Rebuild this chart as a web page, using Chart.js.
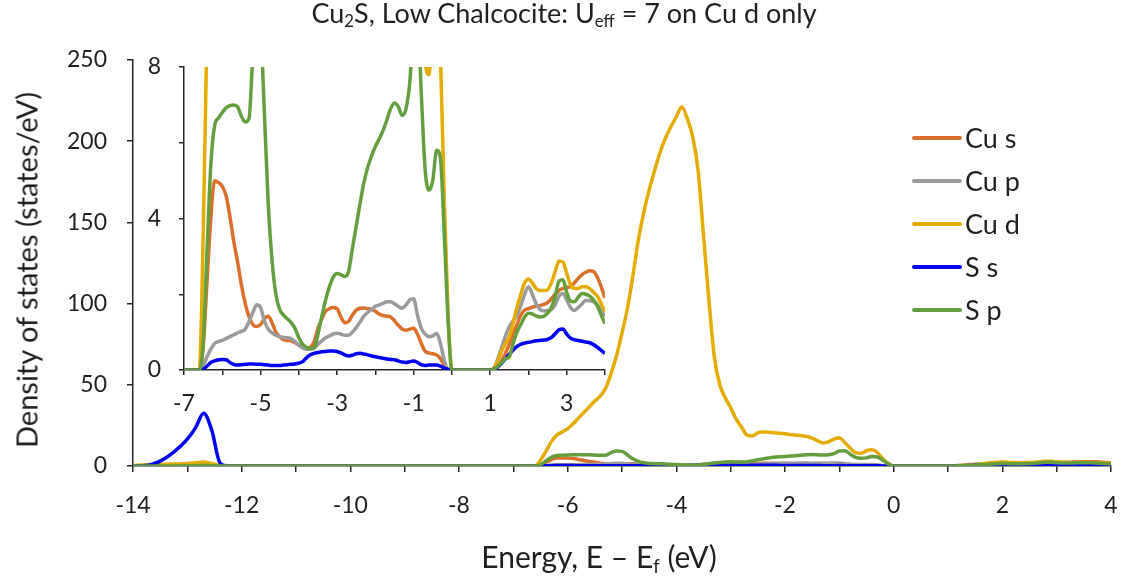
<!DOCTYPE html>
<html>
<head>
<meta charset="utf-8">
<script src="https://cdn.jsdelivr.net/npm/chart.js@4.4.1/dist/chart.umd.min.js"></script>
<style>
  body { margin: 0; background: #fff; }
  #wrap { position: relative; width: 1122px; height: 579px; background: #fff; font-family: Lato, sans-serif; color: #1f1f1f; }
  canvas { position: absolute; }
  .title { position: absolute; left: 564px; top: -1px; transform: translateX(-50%); font-size: 27px; line-height: 1; white-space: nowrap; }
  .xtitle { position: absolute; left: 599px; top: 541px; transform: translateX(-50%); font-size: 30px; line-height: 1; white-space: nowrap; }
  .ytitle { position: absolute; left: 26px; top: 270px; transform: translate(-50%, -50%) rotate(-90deg); font-size: 29px; line-height: 1; white-space: nowrap; }
  sub { font-size: 62%; vertical-align: -0.25em; line-height: 0; }
  #legend-container { position: absolute; left: 912px; top: 116px; }
  .item { display: flex; align-items: center; height: 43px; font-size: 27px; }
  .item span.line { display: inline-block; width: 50px; height: 4px; margin-right: 3px; border-radius: 2px; }
</style>
</head>
<body>
<div id="wrap">
  <canvas id="mainChart" width="1122" height="579" style="left:0;top:0"></canvas>
  <canvas id="insetChart" width="505" height="390" style="left:120px;top:47px"></canvas>
  <div class="title">Cu<sub>2</sub>S, Low Chalcocite: U<sub>eff</sub> = 7 on Cu d only</div>
  <div class="xtitle">Energy, E – E<sub>f</sub> (eV)</div>
  <div class="ytitle">Density of states (states/eV)</div>
  <div id="legend-container"></div>
</div>
<script>
// energy grid (eV), coarse where everything is flat
const energy = [
  -14, -13.75, -13.5, -13.25, -13, -12.85, -12.7, -12.55, -12.4, -12.25, -12, -11, -10, -9, -8, -7, -6.6,
  -6.5, -6.4, -6.3, -6.2, -6.1, -6.0, -5.9, -5.8, -5.7, -5.6,
  -5.5, -5.4, -5.3, -5.2, -5.1, -5.0, -4.9, -4.8, -4.7, -4.6,
  -4.5, -4.4, -4.3, -4.2, -4.1, -4.0, -3.9, -3.8, -3.7, -3.6,
  -3.5, -3.4, -3.3, -3.2, -3.1, -3.0, -2.9, -2.8, -2.7, -2.6,
  -2.5, -2.4, -2.3, -2.2, -2.1, -2.0, -1.9, -1.8, -1.7, -1.6,
  -1.5, -1.4, -1.3, -1.2, -1.1, -1.0, -0.9, -0.8, -0.7, -0.6,
  -0.5, -0.4, -0.3, -0.2, -0.1, 0,
  0.5,
  1.0, 1.1, 1.2, 1.3, 1.4, 1.5, 1.6, 1.7, 1.8, 1.9,
  2.0, 2.1, 2.2, 2.3, 2.4, 2.5, 2.6, 2.7, 2.8, 2.9,
  3.0, 3.1, 3.2, 3.3, 3.4, 3.5, 3.6, 3.7, 3.8, 3.9,
  4.0
];

const cuS = [
  0, 0, 0, 0.1, 0.2, 0.3, 0.5, 0.3, 0.1, 0, 0, 0, 0, 0, 0, 0, 0,
  0.6, 2.3, 4.0, 5.0, 4.95, 4.85, 4.6, 4.05, 3.4, 2.85,
  2.25, 1.75, 1.4, 1.2, 1.15, 1.2, 1.35, 1.42, 1.25, 1.0,
  0.88, 0.8, 0.78, 0.77, 0.72, 0.66, 0.6, 0.57, 0.6, 0.75,
  1.1, 1.35, 1.55, 1.62, 1.65, 1.62, 1.4, 1.25, 1.28, 1.45,
  1.58, 1.63, 1.64, 1.62, 1.6, 1.55, 1.48, 1.44, 1.42, 1.4,
  1.3, 1.18, 1.08, 1.05, 1.08, 1.1, 0.95, 0.7, 0.5, 0.45,
  0.43, 0.4, 0.3, 0.12, 0, 0,
  0,
  0, 0.02, 0.1, 0.25, 0.45, 0.68, 0.95, 1.2, 1.45, 1.58,
  1.62, 1.66, 1.68, 1.7, 1.73, 1.78, 1.88, 2.0, 2.1, 2.15,
  2.18, 2.2, 2.3, 2.42, 2.52, 2.58, 2.62, 2.6, 2.45, 2.2,
  1.9
];

const cuP = [
  0, 0, 0, 0.1, 0.2, 0.3, 0.4, 0.3, 0.1, 0, 0, 0, 0, 0, 0, 0, 0,
  0.1, 0.35, 0.55, 0.7, 0.75, 0.78, 0.83, 0.88, 0.93, 0.98,
  1.02, 1.08, 1.28, 1.52, 1.72, 1.65, 1.3, 1.08, 0.98, 0.92,
  0.88, 0.86, 0.85, 0.83, 0.75, 0.66, 0.58, 0.55, 0.55, 0.58,
  0.68, 0.77, 0.85, 0.9, 0.95, 0.97, 0.95, 0.92, 0.92, 1.0,
  1.12, 1.27, 1.42, 1.52, 1.6, 1.68, 1.72, 1.76, 1.8, 1.8,
  1.75, 1.68, 1.63, 1.72, 1.85, 1.88, 1.45, 1.1, 0.95, 0.88,
  0.9, 0.97, 0.7, 0.25, 0, 0,
  0,
  0, 0.05, 0.3, 0.6, 0.9, 1.15, 1.3, 1.45, 1.7, 2.0,
  2.2, 2.0, 1.75, 1.6, 1.56, 1.57, 1.6, 1.72, 1.95, 2.02,
  1.85, 1.65, 1.57, 1.65, 1.75, 1.84, 1.83, 1.8, 1.72, 1.58,
  1.41
];

const cuD = [
  0.3, 0.8, 1.0, 1.2, 1.5, 2.0, 2.5, 1.5, 0.5, 0.2, 0, 0, 0, 0, 0, 0, 0,
  3.5, 9, 15, 19, 21, 23, 26, 29.5, 33, 36.5,
  40, 43, 48, 57, 68, 82, 97, 117, 139, 156,
  170, 182, 193, 202, 209, 215, 221, 214, 203, 182,
  142, 102, 67, 50, 42, 36, 29, 24, 19, 18.5,
  20.5, 21, 20.8, 20.5, 20.1, 19.8, 19.4, 19, 18.7, 18.2,
  17.2, 15.5, 14.2, 14.8, 16.5, 17.2, 14.5, 11, 8.2, 7.8,
  9.4, 10, 8.3, 4.5, 1.5, 0,
  0,
  0, 0.05, 0.25, 0.5, 0.7, 0.88, 1.25, 1.65, 2.0, 2.3,
  2.4, 2.3, 2.15, 2.1, 2.1, 2.12, 2.3, 2.6, 2.88, 2.85,
  2.55, 2.25, 2.15, 2.15, 2.2, 2.2, 2.15, 2.05, 1.95, 1.75,
  1.54
];

const sS = [
  0, 0.3, 3, 8.5, 16.5, 23.5, 32.5, 22, 2, 0, 0, 0, 0, 0, 0, 0, 0,
  0.02, 0.1, 0.2, 0.24, 0.27, 0.28, 0.27, 0.2, 0.15, 0.13,
  0.14, 0.15, 0.16, 0.16, 0.15, 0.15, 0.14, 0.13, 0.12, 0.12,
  0.12, 0.13, 0.14, 0.15, 0.16, 0.18, 0.22, 0.32, 0.4, 0.44,
  0.46, 0.48, 0.49, 0.5, 0.5, 0.49, 0.45, 0.4, 0.37, 0.39,
  0.43, 0.44, 0.42, 0.4, 0.37, 0.35, 0.33, 0.31, 0.29, 0.28,
  0.27, 0.24, 0.21, 0.2, 0.22, 0.24, 0.2, 0.14, 0.12, 0.13,
  0.13, 0.13, 0.1, 0.05, 0.02, 0,
  0,
  0, 0.02, 0.08, 0.18, 0.3, 0.42, 0.53, 0.62, 0.68, 0.71,
  0.73, 0.75, 0.77, 0.78, 0.79, 0.81, 0.86, 0.96, 1.06, 1.08,
  0.95, 0.84, 0.8, 0.78, 0.76, 0.74, 0.72, 0.67, 0.6, 0.52,
  0.44
];

const sP = [
  0, 0, 0, 0, 0.1, 0.2, 0.3, 0.2, 0.1, 0, 0, 0, 0, 0, 0, 0, 0,
  0.7, 3.1, 5.4, 6.45, 6.65, 6.8, 6.92, 6.98, 7.0, 6.95,
  6.7, 6.55, 6.65, 8.3, 9.2, 9.0, 6.8, 4.4, 2.9, 2.0,
  1.6, 1.45, 1.35, 1.25, 1.1, 0.85, 0.68, 0.6, 0.57, 0.58,
  0.95, 1.41, 1.85, 2.2, 2.45, 2.55, 2.52, 2.47, 2.6, 3.2,
  3.8, 4.4, 4.95, 5.35, 5.65, 5.9, 6.1, 6.32, 6.6, 6.9,
  7.05, 6.95, 6.72, 6.9, 7.6, 9.2, 9.4, 7.3, 5.3, 4.75,
  5.0, 5.8, 5.6, 3.6, 1.3, 0,
  0,
  0, 0.02, 0.1, 0.2, 0.3, 0.35, 0.7, 1.0, 1.2, 1.4,
  1.5, 1.48, 1.43, 1.4, 1.42, 1.5, 1.65, 1.95, 2.35, 2.38,
  2.05, 1.82, 1.8, 1.92, 2.02, 2.0, 1.95, 1.85, 1.7, 1.45,
  1.23
];

const seriesNames = ["Cu s", "Cu p", "Cu d", "S s", "S p"];
const seriesData = [cuS, cuP, cuD, sS, sP];
const seriesColors = ["#DD6F2C", "#9B9B9B", "#E5AB00", "#0000F5", "#63A03D"];

const axisColor = "#262626";
Chart.defaults.font.family = "Lato";
Chart.defaults.color = "#1f1f1f";

function makeDatasets() {
  return seriesNames.map((name, i) => ({
    label: name,
    data: energy.map((e, k) => ({ x: e, y: seriesData[i][k] })),
    borderColor: seriesColors[i],
    borderWidth: 3.5,
    pointRadius: 0,
    cubicInterpolationMode: "monotone",
    //S p on top, Cu s at the bottom
    order: seriesNames.length - 1 - i,
  }));
}

function axisStyle(tickLen) {
  return {
    grid: { drawOnChartArea: false, tickLength: tickLen, color: axisColor, lineWidth: 1.5 },
    border: { color: axisColor, width: 1.5 },
  };
}

//fixed box sizes so the plot area lands where it should; labels may overhang
function fixBox(size) {
  return (s) => {
    if (s.isHorizontal()) s.height = size;
    else s.width = size;
    s.paddingLeft = 0;
    s.paddingRight = 0;
    s.paddingTop = 0;
    s.paddingBottom = 0;
  };
}

function initMain() {
  const ctx = document.getElementById("mainChart").getContext("2d");
  return new Chart(ctx, {
    type: "line",
    data: { datasets: makeDatasets() },
    options: {
      responsive: false,
      animation: false,
      layout: { padding: { top: 60, right: 11, left: 0, bottom: 0 } },
      plugins: { legend: { display: false }, tooltip: { enabled: false } },
      scales: {
        x: {
          type: "linear",
          min: -14,
          max: 4,
          ...axisStyle(6),
          ticks: {
            stepSize: 1,
            autoSkip: false,
            maxRotation: 0,
            padding: 20,
            font: { size: 23 },
            callback: (v) => (v % 2 === 0 ? String(v) : ""),
          },
          afterFit: fixBox(113),
        },
        y: {
          min: 0,
          max: 250,
          ...axisStyle(6),
          ticks: { stepSize: 50, padding: 20, font: { size: 23 } },
          afterFit: fixBox(133),
        },
      },
    },
  });
}

function initInset() {
  const ctx = document.getElementById("insetChart").getContext("2d");
  return new Chart(ctx, {
    type: "line",
    data: { datasets: makeDatasets() },
    options: {
      responsive: false,
      animation: false,
      layout: { padding: { top: 20, right: 20, left: 0, bottom: 0 } },
      plugins: { legend: { display: false }, tooltip: { enabled: false } },
      scales: {
        x: {
          type: "linear",
          min: -7,
          max: 4,
          ...axisStyle(5),
          ticks: {
            stepSize: 1,
            autoSkip: false,
            maxRotation: 0,
            padding: 15,
            font: { size: 23 },
            callback: (v) => (v % 2 !== 0 ? String(v) : ""),
          },
          afterFit: fixBox(67),
        },
        y: {
          min: 0,
          max: 8,
          ...axisStyle(5),
          ticks: {
            stepSize: 2,
            padding: 18,
            font: { size: 23 },
            callback: (v) => (v % 4 === 0 ? String(v) : ""),
          },
          afterFit: fixBox(64),
        },
      },
    },
  });
}

//legend as plain html, sitting over the right side of the plot
function buildLegend() {
  const box = document.getElementById("legend-container");
  seriesNames.forEach((name, i) => {
    const item = document.createElement("div");
    item.className = "item";
    const line = document.createElement("span");
    line.className = "line";
    line.style.background = seriesColors[i];
    const text = document.createElement("span");
    text.textContent = name;
    item.appendChild(line);
    item.appendChild(text);
    box.appendChild(item);
  });
}

initMain();
initInset();
buildLegend();
</script>
</body>
</html>
